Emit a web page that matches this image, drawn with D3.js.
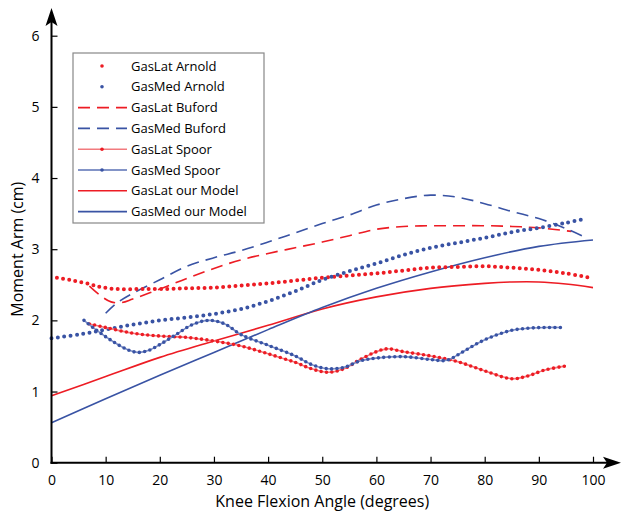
<!DOCTYPE html>
<html>
<head>
<meta charset="utf-8">
<script src="https://cdn.jsdelivr.net/npm/d3@7"></script>
<style>
  body { margin: 0; background: #fff; }
  text { font-family: "Open Sans", "Noto Sans", sans-serif; }
</style>
</head>
<body>
<svg id="chart" width="628" height="518"></svg>
<script>
// data
const latArnoldX = [1, 4, 7, 9, 12, 16, 20, 25, 30, 35, 40, 45, 50, 55, 60, 65, 70, 75, 80, 85, 90, 95, 100];
const latArnoldY = [2.6, 2.56, 2.51, 2.47, 2.44, 2.44, 2.44, 2.45, 2.46, 2.49, 2.52, 2.56, 2.6, 2.63, 2.66, 2.7, 2.74, 2.75, 2.76, 2.74, 2.71, 2.66, 2.59];

const medArnoldX = [0, 5, 10, 15, 20, 25, 30, 35, 40, 45, 50, 55, 60, 65, 70, 75, 80, 85, 90, 95, 98];
const medArnoldY = [1.75, 1.8, 1.87, 1.94, 2.0, 2.04, 2.09, 2.16, 2.27, 2.41, 2.57, 2.69, 2.8, 2.92, 3.02, 3.09, 3.16, 3.24, 3.3, 3.37, 3.42];

const latBufordX = [7, 9, 11, 13, 15, 20, 25, 30, 35, 40, 45, 50, 55, 60, 65, 70, 75, 80, 85, 90, 96];
const latBufordY = [2.48, 2.35, 2.26, 2.25, 2.3, 2.44, 2.59, 2.73, 2.85, 2.94, 3.02, 3.1, 3.19, 3.28, 3.32, 3.33, 3.33, 3.33, 3.32, 3.3, 3.25];

const medBufordX = [10, 12, 15, 20, 25, 30, 35, 40, 45, 50, 55, 60, 65, 70, 75, 80, 85, 90, 95, 99];
const medBufordY = [2.1, 2.24, 2.38, 2.57, 2.76, 2.88, 2.98, 3.1, 3.23, 3.36, 3.48, 3.62, 3.71, 3.76, 3.73, 3.64, 3.53, 3.43, 3.29, 3.15];

const latSpoorX = [7, 10, 15, 20, 25, 30, 35, 40, 45, 48, 51, 54, 57, 60, 62, 65, 70, 75, 80, 85, 88, 91, 95];
const latSpoorY = [1.95, 1.9, 1.82, 1.78, 1.76, 1.71, 1.64, 1.53, 1.41, 1.32, 1.27, 1.32, 1.45, 1.56, 1.6, 1.56, 1.5, 1.42, 1.29, 1.18, 1.22, 1.3, 1.36];

const medSpoorX = [6, 8, 11, 14, 16, 18, 20, 23, 26, 29, 32, 35, 40, 45, 48, 51, 54, 57, 60, 65, 70, 73, 76, 79, 82, 85, 88, 91, 94];
const medSpoorY = [2.0, 1.88, 1.72, 1.59, 1.55, 1.58, 1.66, 1.8, 1.94, 2.0, 1.95, 1.8, 1.65, 1.5, 1.38, 1.32, 1.34, 1.43, 1.47, 1.49, 1.45, 1.44, 1.56, 1.69, 1.79, 1.86, 1.89, 1.9, 1.9];

const latModelX = [0, 10, 20, 30, 40, 50, 60, 70, 80, 85, 90, 95, 100];
const latModelY = [0.94, 1.21, 1.48, 1.71, 1.93, 2.16, 2.33, 2.45, 2.52, 2.54, 2.54, 2.51, 2.46];

const medModelX = [0, 10, 20, 30, 40, 50, 60, 70, 80, 90, 100];
const medModelY = [0.56, 0.9, 1.23, 1.55, 1.87, 2.18, 2.45, 2.68, 2.88, 3.04, 3.13];

const xTicks = [0, 10, 20, 30, 40, 50, 60, 70, 80, 90, 100];
const yTicks = [0, 1, 2, 3, 4, 5, 6];
const legendLabels = ["GasLat Arnold", "GasMed Arnold", "GasLat Buford", "GasMed Buford",
  "GasLat Spoor", "GasMed Spoor", "GasLat our Model", "GasMed our Model"];

const red = "#ed1c24";
const blue = "#3953a4";

const svg = d3.select("#chart");
const x = d3.scaleLinear().domain([0, 100]).range([51.5, 593]);
const y = d3.scaleLinear().domain([0, 6]).range([462.7, 35.7]);

const zip = (xs, ys) => xs.map((v, i) => [v, ys[i]]);
const line = d3.line().x(d => x(d[0])).y(d => y(d[1])).curve(d3.curveCatmullRom.alpha(0.5));

const plot = svg.append("g");

// series styles
const series = [
  { data: zip(latModelX, latModelY), stroke: red, width: 1.6 },
  { data: zip(medModelX, medModelY), stroke: blue, width: 1.6 },
  { data: zip(latBufordX, latBufordY), stroke: red, width: 1.6, dash: "12 7" },
  { data: zip(medBufordX, medBufordY), stroke: blue, width: 1.6, dash: "12 7" },
  { data: zip(latArnoldX, latArnoldY), stroke: red, width: 4, dash: "0 6.2", cap: "round" },
  { data: zip(medArnoldX, medArnoldY), stroke: blue, width: 4, dash: "0 6.4", cap: "round" },
  { data: zip(latSpoorX, latSpoorY), stroke: "#f27a7e", width: 1.6 },
  { data: zip(latSpoorX, latSpoorY), stroke: red, width: 3.6, dash: "0 5.4", cap: "round" },
  { data: zip(medSpoorX, medSpoorY), stroke: "#7c8ec6", width: 1.6 },
  { data: zip(medSpoorX, medSpoorY), stroke: blue, width: 3.6, dash: "0 5.4", cap: "round" }
];

series.forEach(s => {
  plot.append("path")
    .datum(s.data)
    .attr("fill", "none")
    .attr("stroke", s.stroke)
    .attr("stroke-width", s.width)
    .attr("stroke-dasharray", s.dash || null)
    .attr("stroke-linecap", s.cap || "butt")
    .attr("d", line);
});

// axes
const xAxis = d3.axisBottom(x).tickValues(xTicks).tickSize(-6).tickPadding(12).tickSizeOuter(0);
const gx = svg.append("g")
  .attr("transform", `translate(0,${y(0)})`)
  .call(xAxis);
gx.select(".domain").remove();
gx.selectAll("line").attr("stroke", "#000").attr("stroke-width", 1.2);
gx.selectAll("text").style("font-size", "14px").attr("fill", "#000");

const yAxis = d3.axisLeft(y).tickValues(yTicks).tickFormat(d3.format("d"))
  .tickSize(-6).tickPadding(12).tickSizeOuter(0);
const gy = svg.append("g")
  .attr("transform", `translate(${x(0)},0)`)
  .call(yAxis);
gy.select(".domain").remove();
gy.selectAll("line").attr("stroke", "#000").attr("stroke-width", 1.2);
gy.selectAll("text").style("font-size", "14px").attr("fill", "#000");

// axis lines with arrows
svg.append("line")
  .attr("x1", x(0)).attr("y1", y(0) + 1).attr("x2", x(0)).attr("y2", 20)
  .attr("stroke", "#000").attr("stroke-width", 2);
svg.append("line")
  .attr("x1", x(0) - 1).attr("y1", y(0)).attr("x2", 610).attr("y2", y(0))
  .attr("stroke", "#000").attr("stroke-width", 2);
svg.append("path")
  .attr("d", `M${x(0)},8 L${x(0) + 6},26 L${x(0)},22 L${x(0) - 6},26 Z`)
  .attr("fill", "#000");
svg.append("path")
  .attr("d", `M621,${y(0)} L603,${y(0) - 6} L607,${y(0)} L603,${y(0) + 6} Z`)
  .attr("fill", "#000");

// axis titles
svg.append("text")
  .attr("x", (x(0) + x(100)) / 2).attr("y", 507)
  .attr("text-anchor", "middle")
  .style("font-size", "16px")
  .text("Knee Flexion Angle (degrees)");
svg.append("text")
  .attr("transform", `translate(23,${y(3)}) rotate(-90)`)
  .attr("text-anchor", "middle")
  .style("font-size", "16px")
  .text("Moment Arm (cm)");

// legend
const lg = svg.append("g").attr("transform", "translate(73,53)");
lg.append("rect")
  .attr("width", 191).attr("height", 170)
  .attr("fill", "#fff").attr("stroke", "#888").attr("stroke-width", 1.2);

const legendStyle = [
  { kind: "dot", color: red },
  { kind: "dot", color: blue },
  { kind: "line", color: red, dash: "12 7" },
  { kind: "line", color: blue, dash: "12 7" },
  { kind: "spoor", color: red, light: "#f27a7e" },
  { kind: "spoor", color: blue, light: "#5a70b5" },
  { kind: "line", color: red },
  { kind: "line", color: blue }
];

legendLabels.forEach((label, i) => {
  const ly = 13 + i * 20.8;
  const st = legendStyle[i];
  const row = lg.append("g").attr("transform", `translate(0,${ly})`);
  if (st.kind === "dot") {
    row.append("circle").attr("cx", 29).attr("cy", 0).attr("r", 1.8).attr("fill", st.color);
  } else if (st.kind === "line") {
    row.append("line").attr("x1", 5).attr("x2", 54).attr("y1", 0).attr("y2", 0)
      .attr("stroke", st.color).attr("stroke-width", 1.6)
      .attr("stroke-dasharray", st.dash || null);
  } else {
    row.append("line").attr("x1", 5).attr("x2", 54).attr("y1", 0).attr("y2", 0)
      .attr("stroke", st.light).attr("stroke-width", 1.6);
    row.append("circle").attr("cx", 29).attr("cy", 0).attr("r", 1.8).attr("fill", st.color);
  }
  row.append("text")
    .attr("x", 58).attr("y", 0).attr("dy", "0.35em")
    .style("font-size", "13px")
    .text(label);
});
</script>
</body>
</html>
